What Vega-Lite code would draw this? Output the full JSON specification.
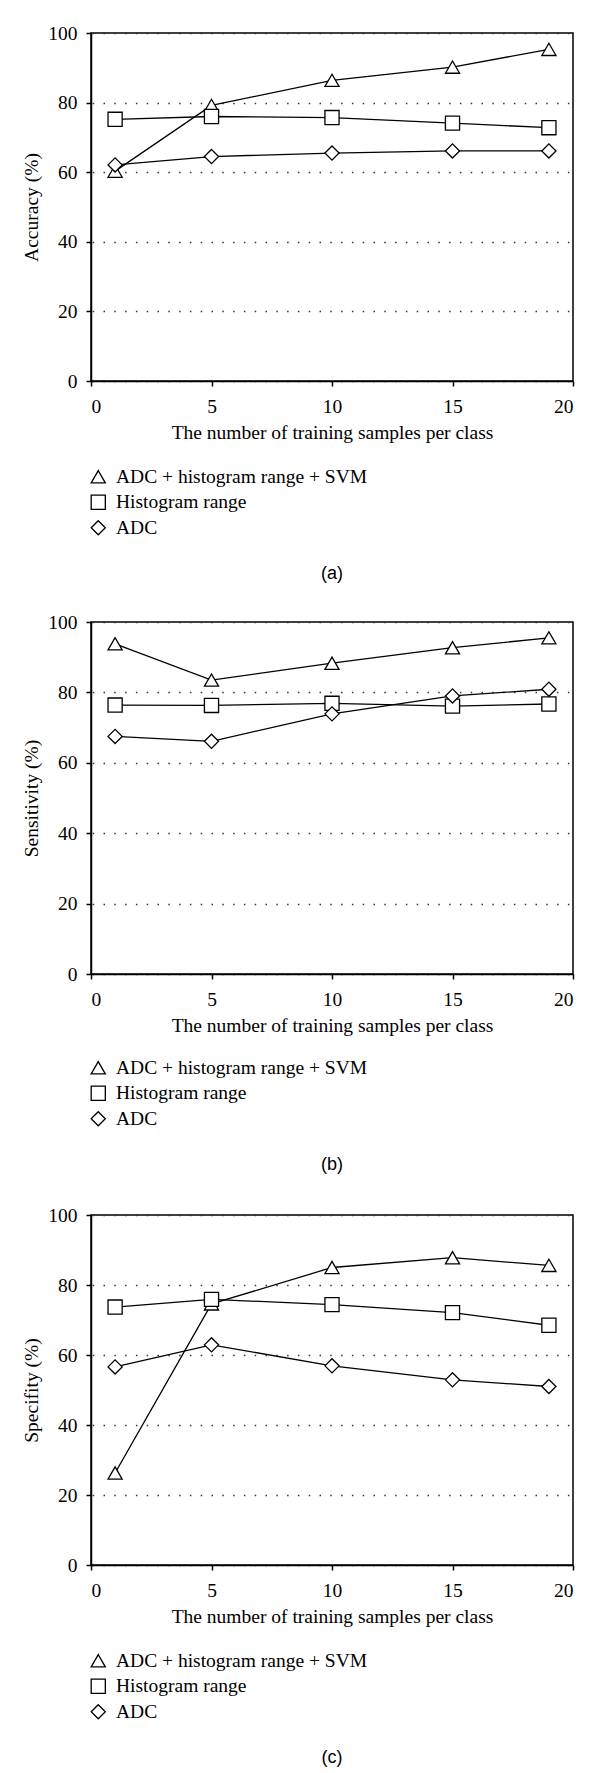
{
  "$schema": "https://vega.github.io/schema/vega-lite/v6.json",
  "background": "white",
  "padding": {"left": 21, "top": 22, "right": 5, "bottom": 5},
  "config": {
    "view": {"stroke": "black", "strokeWidth": 1.5},
    "axis": {
      "domainColor": "black", "tickColor": "black", "labelColor": "black", "titleColor": "black",
      "labelFont": "Liberation Serif", "titleFont": "Liberation Serif",
      "labelFontSize": 19.5, "titleFontSize": 19.5, "titleFontWeight": "normal",
      "tickSize": 5, "domainWidth": 1.5, "tickWidth": 1.5
    },
    "axisX": {"labelPadding": 11, "titlePadding": 8, "grid": false},
    "axisY": {"labelPadding": 9, "titlePadding": 6, "grid": true, "gridDash": [1.5, 9.3], "gridDashOffset": 9.6, "gridColor": "#333333", "gridWidth": 1.5},
    "legend": {
      "orient": "none", "title": null,
      "labelFont": "Liberation Serif", "labelFontSize": 19.5, "labelColor": "black", "labelLimit": 500,
      "labelOffset": 8, "rowPadding": 4.5
    },
    "title": {"font": "Liberation Sans", "fontSize": 18, "fontWeight": "normal", "color": "black", "orient": "bottom", "offset": 27, "anchor": "middle"}
  },
  "datasets": {
    "acc": [
      {"n": 1, "v": 60.3, "s": "ADC + histogram range + SVM"},
      {"n": 5, "v": 79.2, "s": "ADC + histogram range + SVM"},
      {"n": 10, "v": 86.4, "s": "ADC + histogram range + SVM"},
      {"n": 15, "v": 90.2, "s": "ADC + histogram range + SVM"},
      {"n": 19, "v": 95.3, "s": "ADC + histogram range + SVM"},
      {"n": 1, "v": 75.2, "s": "Histogram range"},
      {"n": 5, "v": 76.0, "s": "Histogram range"},
      {"n": 10, "v": 75.7, "s": "Histogram range"},
      {"n": 15, "v": 74.1, "s": "Histogram range"},
      {"n": 19, "v": 72.8, "s": "Histogram range"},
      {"n": 1, "v": 62.1, "s": "ADC"},
      {"n": 5, "v": 64.5, "s": "ADC"},
      {"n": 10, "v": 65.5, "s": "ADC"},
      {"n": 15, "v": 66.1, "s": "ADC"},
      {"n": 19, "v": 66.1, "s": "ADC"}
    ],
    "sens": [
      {"n": 1, "v": 93.8, "s": "ADC + histogram range + SVM"},
      {"n": 5, "v": 83.5, "s": "ADC + histogram range + SVM"},
      {"n": 10, "v": 88.3, "s": "ADC + histogram range + SVM"},
      {"n": 15, "v": 92.7, "s": "ADC + histogram range + SVM"},
      {"n": 19, "v": 95.5, "s": "ADC + histogram range + SVM"},
      {"n": 1, "v": 76.4, "s": "Histogram range"},
      {"n": 5, "v": 76.3, "s": "Histogram range"},
      {"n": 10, "v": 76.9, "s": "Histogram range"},
      {"n": 15, "v": 76.1, "s": "Histogram range"},
      {"n": 19, "v": 76.7, "s": "Histogram range"},
      {"n": 1, "v": 67.5, "s": "ADC"},
      {"n": 5, "v": 66.1, "s": "ADC"},
      {"n": 10, "v": 73.9, "s": "ADC"},
      {"n": 15, "v": 79.0, "s": "ADC"},
      {"n": 19, "v": 80.9, "s": "ADC"}
    ],
    "spec": [
      {"n": 1, "v": 26.3, "s": "ADC + histogram range + SVM"},
      {"n": 5, "v": 74.6, "s": "ADC + histogram range + SVM"},
      {"n": 10, "v": 85.0, "s": "ADC + histogram range + SVM"},
      {"n": 15, "v": 87.8, "s": "ADC + histogram range + SVM"},
      {"n": 19, "v": 85.6, "s": "ADC + histogram range + SVM"},
      {"n": 1, "v": 73.7, "s": "Histogram range"},
      {"n": 5, "v": 75.9, "s": "Histogram range"},
      {"n": 10, "v": 74.4, "s": "Histogram range"},
      {"n": 15, "v": 72.1, "s": "Histogram range"},
      {"n": 19, "v": 68.5, "s": "Histogram range"},
      {"n": 1, "v": 56.6, "s": "ADC"},
      {"n": 5, "v": 62.9, "s": "ADC"},
      {"n": 10, "v": 56.9, "s": "ADC"},
      {"n": 15, "v": 52.9, "s": "ADC"},
      {"n": 19, "v": 51.0, "s": "ADC"}
    ]
  },
  "bounds": "flush",
  "spacing": 241,
  "resolve": {"scale": {"shape": "independent"}, "legend": {"shape": "independent"}},
  "vconcat": [
    {
      "width": 482, "height": 348,
      "data": {"name": "acc"},
      "title": {"text": "(a)"},
      "encoding": {
        "x": {"field": "n", "type": "quantitative", "scale": {"domain": [0, 20]}, "axis": {"values": [0, 5, 10, 15, 20], "title": "The number of training samples per class"}},
        "y": {"field": "v", "type": "quantitative", "scale": {"domain": [0, 100]}, "axis": {"values": [0, 20, 40, 60, 80, 100], "title": "Accuracy (%)"}}
      },
      "layer": [
        {"mark": {"type": "line", "color": "black", "strokeWidth": 1.3}, "encoding": {"detail": {"field": "s"}}},
        {"mark": {"type": "point", "filled": false, "fill": "white", "fillOpacity": 1, "stroke": "black", "strokeWidth": 1.3, "size": 200, "opacity": 1},
         "encoding": {"shape": {"field": "s", "type": "nominal", "scale": {"domain": ["ADC + histogram range + SVM", "Histogram range", "ADC"], "range": ["triangle-up", "square", "diamond"]},
           "legend": {"legendX": -2.5, "legendY": 434, "symbolSize": 200, "symbolStrokeWidth": 1.3}}}}
      ]
    },
    {
      "width": 482, "height": 352,
      "data": {"name": "sens"},
      "title": {"text": "(b)"},
      "encoding": {
        "x": {"field": "n", "type": "quantitative", "scale": {"domain": [0, 20]}, "axis": {"values": [0, 5, 10, 15, 20], "title": "The number of training samples per class"}},
        "y": {"field": "v", "type": "quantitative", "scale": {"domain": [0, 100]}, "axis": {"values": [0, 20, 40, 60, 80, 100], "title": "Sensitivity (%)"}}
      },
      "layer": [
        {"mark": {"type": "line", "color": "black", "strokeWidth": 1.3}, "encoding": {"detail": {"field": "s"}}},
        {"mark": {"type": "point", "filled": false, "fill": "white", "fillOpacity": 1, "stroke": "black", "strokeWidth": 1.3, "size": 200, "opacity": 1},
         "encoding": {"shape": {"field": "s", "type": "nominal", "scale": {"domain": ["ADC + histogram range + SVM", "Histogram range", "ADC"], "range": ["triangle-up", "square", "diamond"]},
           "legend": {"legendX": -2.5, "legendY": 436, "symbolSize": 200, "symbolStrokeWidth": 1.3}}}}
      ]
    },
    {
      "width": 482, "height": 350,
      "data": {"name": "spec"},
      "title": {"text": "(c)"},
      "encoding": {
        "x": {"field": "n", "type": "quantitative", "scale": {"domain": [0, 20]}, "axis": {"values": [0, 5, 10, 15, 20], "title": "The number of training samples per class"}},
        "y": {"field": "v", "type": "quantitative", "scale": {"domain": [0, 100]}, "axis": {"values": [0, 20, 40, 60, 80, 100], "title": "Specifity (%)"}}
      },
      "layer": [
        {"mark": {"type": "line", "color": "black", "strokeWidth": 1.3}, "encoding": {"detail": {"field": "s"}}},
        {"mark": {"type": "point", "filled": false, "fill": "white", "fillOpacity": 1, "stroke": "black", "strokeWidth": 1.3, "size": 200, "opacity": 1},
         "encoding": {"shape": {"field": "s", "type": "nominal", "scale": {"domain": ["ADC + histogram range + SVM", "Histogram range", "ADC"], "range": ["triangle-up", "square", "diamond"]},
           "legend": {"legendX": -2.5, "legendY": 436, "symbolSize": 200, "symbolStrokeWidth": 1.3}}}}
      ]
    }
  ]
}
